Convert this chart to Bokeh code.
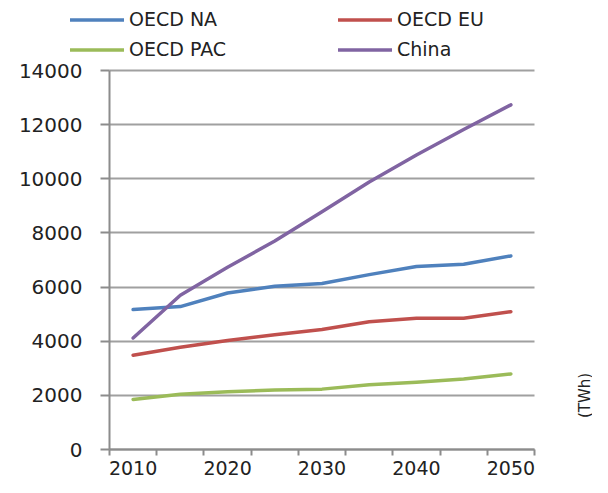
from math import pi
from bokeh.plotting import figure
from bokeh.models import (Range1d, FixedTicker, Legend, LegendItem, Label)
from bokeh.embed import file_html
from bokeh.resources import INLINE

years = [2010, 2015, 2020, 2025, 2030, 2035, 2040, 2045, 2050]
oecd_na = [5170, 5280, 5780, 6030, 6130, 6460, 6760, 6840, 7150]
oecd_eu = [3480, 3780, 4030, 4240, 4430, 4720, 4850, 4850, 5090]
oecd_pac = [1850, 2040, 2130, 2200, 2230, 2390, 2480, 2600, 2790]
china = [4120, 5700, 6730, 7700, 8780, 9880, 10880, 11820, 12730]

series_names = ["OECD NA", "OECD EU", "OECD PAC", "China"]
series_values = [oecd_na, oecd_eu, oecd_pac, china]
series_colors = ["#4F81BD", "#C0504D", "#9BBB59", "#8064A2"]

x_label_years = [2010, 2020, 2030, 2040, 2050]
x_boundaries = [2007.5 + 5 * i for i in range(10)]
y_ticks = [0, 2000, 4000, 6000, 8000, 10000, 12000, 14000]
unit_text = "(TWh)"

FONT = "DejaVu Sans"
AXIS_GREY = "#8c8c8c"

# layout (pixels): the frame covers the whole canvas, axes are pinned inside it
W, H = 592, 477
AXIS_X, AXIS_Y = 109, 449          # where the y axis / x axis sit
PLOT_W, PLOT_H = 425, 379          # axis-bounded plotting area

x0, x1 = x_boundaries[0], x_boundaries[-1]
y0, y1 = y_ticks[0], y_ticks[-1]
per_px_x = (x1 - x0) / PLOT_W
per_px_y = (y1 - y0) / PLOT_H
x_start = x0 - AXIS_X * per_px_x
x_end = x0 + (W - AXIS_X) * per_px_x
y_start = y0 - (H - AXIS_Y) * per_px_y
y_end = y0 + AXIS_Y * per_px_y

p = figure(width=W, height=H, output_backend="svg", toolbar_location=None,
           x_range=Range1d(x_start, x_end), y_range=Range1d(y_start, y_end),
           min_border_left=0, min_border_right=0, min_border_top=0,
           min_border_bottom=0)
p.outline_line_color = None
p.background_fill_color = "white"
p.border_fill_color = "white"

# horizontal grid lines limited to the plotting area
p.xgrid.grid_line_color = None
try:
    p.ygrid.cross_bounds = (x0, x1)
    p.ygrid.bounds = (y0, y1)
    p.ygrid.ticker = FixedTicker(ticks=y_ticks)
    p.ygrid.grid_line_color = "#a0a0a0"
    p.ygrid.grid_line_width = 2
except AttributeError:
    p.ygrid.grid_line_color = None
    p.segment(x0=[x0] * len(y_ticks), x1=[x1] * len(y_ticks), y0=y_ticks, y1=y_ticks,
              line_color="#a0a0a0", line_width=2)

renderers = []
for vals, col in zip(series_values, series_colors):
    r = p.line(years, vals, line_color=col, line_width=3.5, line_cap="round",
               line_join="round")
    renderers.append(r)

# X axis (Excel-style category axis: ticks between categories), pinned at y=0
xa = p.xaxis[0]
xa.fixed_location = y0
xa.bounds = (x0, x1)
xa.ticker = FixedTicker(ticks=x_label_years, minor_ticks=x_boundaries)
xa.axis_line_color = AXIS_GREY
xa.axis_line_width = 2
xa.major_tick_line_color = None
xa.major_tick_out = 0
xa.major_tick_in = 0
xa.minor_tick_line_color = AXIS_GREY
xa.minor_tick_line_width = 2
xa.minor_tick_out = 6
xa.minor_tick_in = 0
xa.major_label_text_font = FONT
xa.major_label_text_font_size = "19px"
xa.major_label_text_color = "#222222"
xa.major_label_standoff = 5

# Y axis, pinned at the first category boundary
ya = p.yaxis[0]
ya.fixed_location = x0
ya.bounds = (y0, y1)
ya.ticker = FixedTicker(ticks=y_ticks)
ya.axis_line_color = AXIS_GREY
ya.axis_line_width = 2
ya.major_tick_line_color = AXIS_GREY
ya.major_tick_line_width = 2
ya.major_tick_out = 9
ya.major_tick_in = 0
ya.minor_tick_line_color = None
ya.major_label_text_font = FONT
ya.major_label_text_font_size = "20px"
ya.major_label_text_color = "#222222"
ya.major_label_standoff = 18

unit = Label(x=W - 8, y=H - 395, x_units="screen", y_units="screen", text=unit_text,
             angle=pi / 2, text_align="center", text_baseline="middle",
             text_font=FONT, text_font_size="15px", text_color="#222222")
p.add_layout(unit)

legend = Legend(items=[LegendItem(label=n, renderers=[r]) for n, r in zip(series_names, renderers)],
                orientation="horizontal", ncols=2, location=(70, H - 60),
                glyph_width=54, glyph_height=21, label_standoff=5,
                label_width=201, label_height=21, spacing=8,
                padding=0, margin=0, border_line_color=None,
                background_fill_alpha=0,
                label_text_font=FONT, label_text_font_size="19px",
                label_text_color="#222222")
p.add_layout(legend)

open("out.html", "w").write(file_html(p, INLINE))
